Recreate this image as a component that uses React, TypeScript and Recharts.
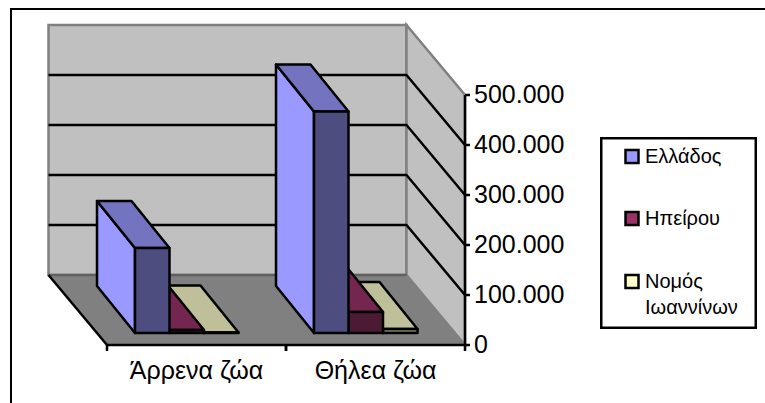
import React from "react";
import { BarChart, Bar, XAxis, YAxis, Legend } from "recharts";

const categories = ["Άρρενα ζώα", "Θήλεα ζώα"];
const seriesNames = ["Ελλάδος", "Ηπείρου", "Νομός Ιωαννίνων"];
const ellados = [170000, 443000];
const ipeirou = [6000, 42000];
const ioanninon = [1000, 8000];
const yTicks = [0, 100000, 200000, 300000, 400000, 500000];

const data = categories.map((name, i) => ({
  name,
  ellados: ellados[i],
  ipeirou: ipeirou[i],
  ioanninon: ioanninon[i],
}));

// plot area = front face of the 3d box
const LEFT = 107;
const RIGHT = 465;
const TOP = 95;
const BOTTOM = 345;
const X_AXIS_H = 40;
const Y_AXIS_W = 60;
// depth of the box
const DX = 58.5;
const DY = 70;
// depth of a bar and how far its front sits from the front of the box
const BAR_DX = 38;
const BAR_DY = 47;
const FRONT_DX = 10;
const FRONT_DY = 12;
const BAR_W = 34.5;

const faces = [
  { side: "#9999FF", top: "#7373BF", front: "#4D4D80", legend: "#9999FF" },
  { side: "#993366", top: "#732650", front: "#4D1A33", legend: "#993366" },
  { side: "#FFFFCC", top: "#BFBF99", front: "#808066", legend: "#FFFFCC" },
];

const line = { stroke: "#000", strokeWidth: 2.5, strokeLinejoin: "round" as const };

const pts = (p: number[][]) => p.map((q) => q.join(",")).join(" ");

// bars are declared back to front (so the nearer ones paint on top), the shift moves them back in place
function Bar3D(props: any, colorIdx: number) {
  const { x, y, width, height } = props;
  const c = faces[colorIdx];
  const shift = (colorIdx - (2 - colorIdx)) * width;
  const l = x + shift - FRONT_DX;
  const r = l + width;
  const t = y - FRONT_DY;
  const b = y + height - FRONT_DY;
  return (
    <g>
      <polygon
        points={pts([[l, t], [l - BAR_DX, t - BAR_DY], [l - BAR_DX, b - BAR_DY], [l, b]])}
        fill={c.side}
        {...line}
      />
      <polygon
        points={pts([[l, t], [l - BAR_DX, t - BAR_DY], [r - BAR_DX, t - BAR_DY], [r, t]])}
        fill={c.top}
        {...line}
      />
      <rect x={l} y={t} width={width} height={height} fill={c.front} {...line} />
    </g>
  );
}

function Walls() {
  const gridVals = yTicks.slice(1, 5);
  const yOf = (v: number) => BOTTOM - ((BOTTOM - TOP) * v) / 500000;
  const wall = { stroke: "#808080", strokeWidth: 2.5 };
  return (
    <g>
      <polygon
        points={pts([[LEFT - DX, TOP - DY], [RIGHT - DX, TOP - DY], [RIGHT - DX, BOTTOM - DY], [LEFT - DX, BOTTOM - DY]])}
        fill="#C0C0C0"
        {...wall}
      />
      <polygon
        points={pts([[RIGHT - DX, TOP - DY], [RIGHT, TOP], [RIGHT, BOTTOM], [RIGHT - DX, BOTTOM - DY]])}
        fill="#C0C0C0"
        {...wall}
      />
      <polygon
        points={pts([[LEFT - DX, BOTTOM - DY], [RIGHT - DX, BOTTOM - DY], [RIGHT, BOTTOM], [LEFT, BOTTOM]])}
        fill="#808080"
      />
      <line x1={LEFT - DX} y1={BOTTOM - DY} x2={RIGHT - DX} y2={BOTTOM - DY} stroke="#606060" strokeWidth={2.5} />
      {gridVals.map((v) => (
        <polyline
          key={v}
          points={pts([[LEFT - DX, yOf(v) - DY], [RIGHT - DX, yOf(v) - DY], [RIGHT, yOf(v)]])}
          fill="none"
          {...line}
        />
      ))}
      <line x1={LEFT - DX} y1={BOTTOM - DY} x2={LEFT} y2={BOTTOM} {...line} />
    </g>
  );
}

function CatTick(props: any) {
  const { x, payload } = props;
  const half = (RIGHT - LEFT) / 4;
  return (
    <g>
      <line x1={x - half} y1={BOTTOM} x2={x - half} y2={BOTTOM + 6} {...line} />
      <line x1={x + half} y1={BOTTOM} x2={x + half} y2={BOTTOM + 6} {...line} />
      <text x={x} y={BOTTOM + 34} textAnchor="middle" fontSize={25} fill="#000">
        {payload.value}
      </text>
    </g>
  );
}

function LegendBox() {
  const rows = [
    { label: ["Ελλάδος"], y: 26 },
    { label: ["Ηπείρου"], y: 88 },
    { label: ["Νομός", "Ιωαννίνων"], y: 151 },
  ];
  return (
    <svg width={157} height={192} style={{ display: "block" }}>
      <rect x={1.25} y={1.25} width={154.5} height={189.5} fill="#fff" stroke="#000" strokeWidth={2.5} />
      {rows.map((row, i) => (
        <g key={row.label[0]}>
          <rect x={25.5} y={row.y - 13} width={13} height={13} fill={faces[i].legend} stroke="#000" strokeWidth={2.5} />
          {row.label.map((t, j) => (
            <text key={t} x={45} y={row.y + j * 26} fontSize={20} fill="#000">
              {t}
            </text>
          ))}
        </g>
      ))}
    </svg>
  );
}

export default function App() {
  return (
    <div style={{ position: "absolute", left: 0, top: 0, width: 765, height: 403, background: "#fff", fontFamily: "'Liberation Sans', Arial, sans-serif" }}>
      <div style={{ position: "absolute", left: 10, top: 8, width: 755, height: 395, borderLeft: "2px solid #000", borderTop: "2px solid #000", boxSizing: "border-box" }} />
      <BarChart
        width={765}
        height={403}
        data={data}
        margin={{ top: TOP, right: 765 - RIGHT - Y_AXIS_W, left: LEFT, bottom: 403 - BOTTOM - X_AXIS_H }}
        barCategoryGap={38}
        barSize={BAR_W}
        barGap={0}
        style={{ position: "absolute", left: 0, top: 0 }}
      >
        <Walls />
        <XAxis dataKey="name" interval={0} tickLine={false} height={X_AXIS_H} stroke="#000" strokeWidth={2.5} tick={<CatTick />} />
        <YAxis
          orientation="right"
          width={Y_AXIS_W}
          domain={[0, 500000]}
          ticks={yTicks}
          tickFormatter={(v: number) => (v === 0 ? "0" : `${v / 1000}.000`)}
          tick={{ fill: "#000", fontSize: 25, dy: -1 }}
          tickSize={5}
          tickMargin={4}
          axisLine={{ stroke: "#000", strokeWidth: 2.5 }}
          tickLine={{ stroke: "#000", strokeWidth: 2.5 }}
        />
        <Legend
          layout="vertical"
          align="center"
          verticalAlign="middle"
          wrapperStyle={{ left: 600, top: 137, width: 157 }}
          content={<LegendBox />}
        />
        <Bar dataKey="ioanninon" name={seriesNames[2]} isAnimationActive={false} shape={(p: any) => Bar3D(p, 2)} />
        <Bar dataKey="ipeirou" name={seriesNames[1]} isAnimationActive={false} shape={(p: any) => Bar3D(p, 1)} />
        <Bar dataKey="ellados" name={seriesNames[0]} isAnimationActive={false} shape={(p: any) => Bar3D(p, 0)} />
      </BarChart>
    </div>
  );
}
